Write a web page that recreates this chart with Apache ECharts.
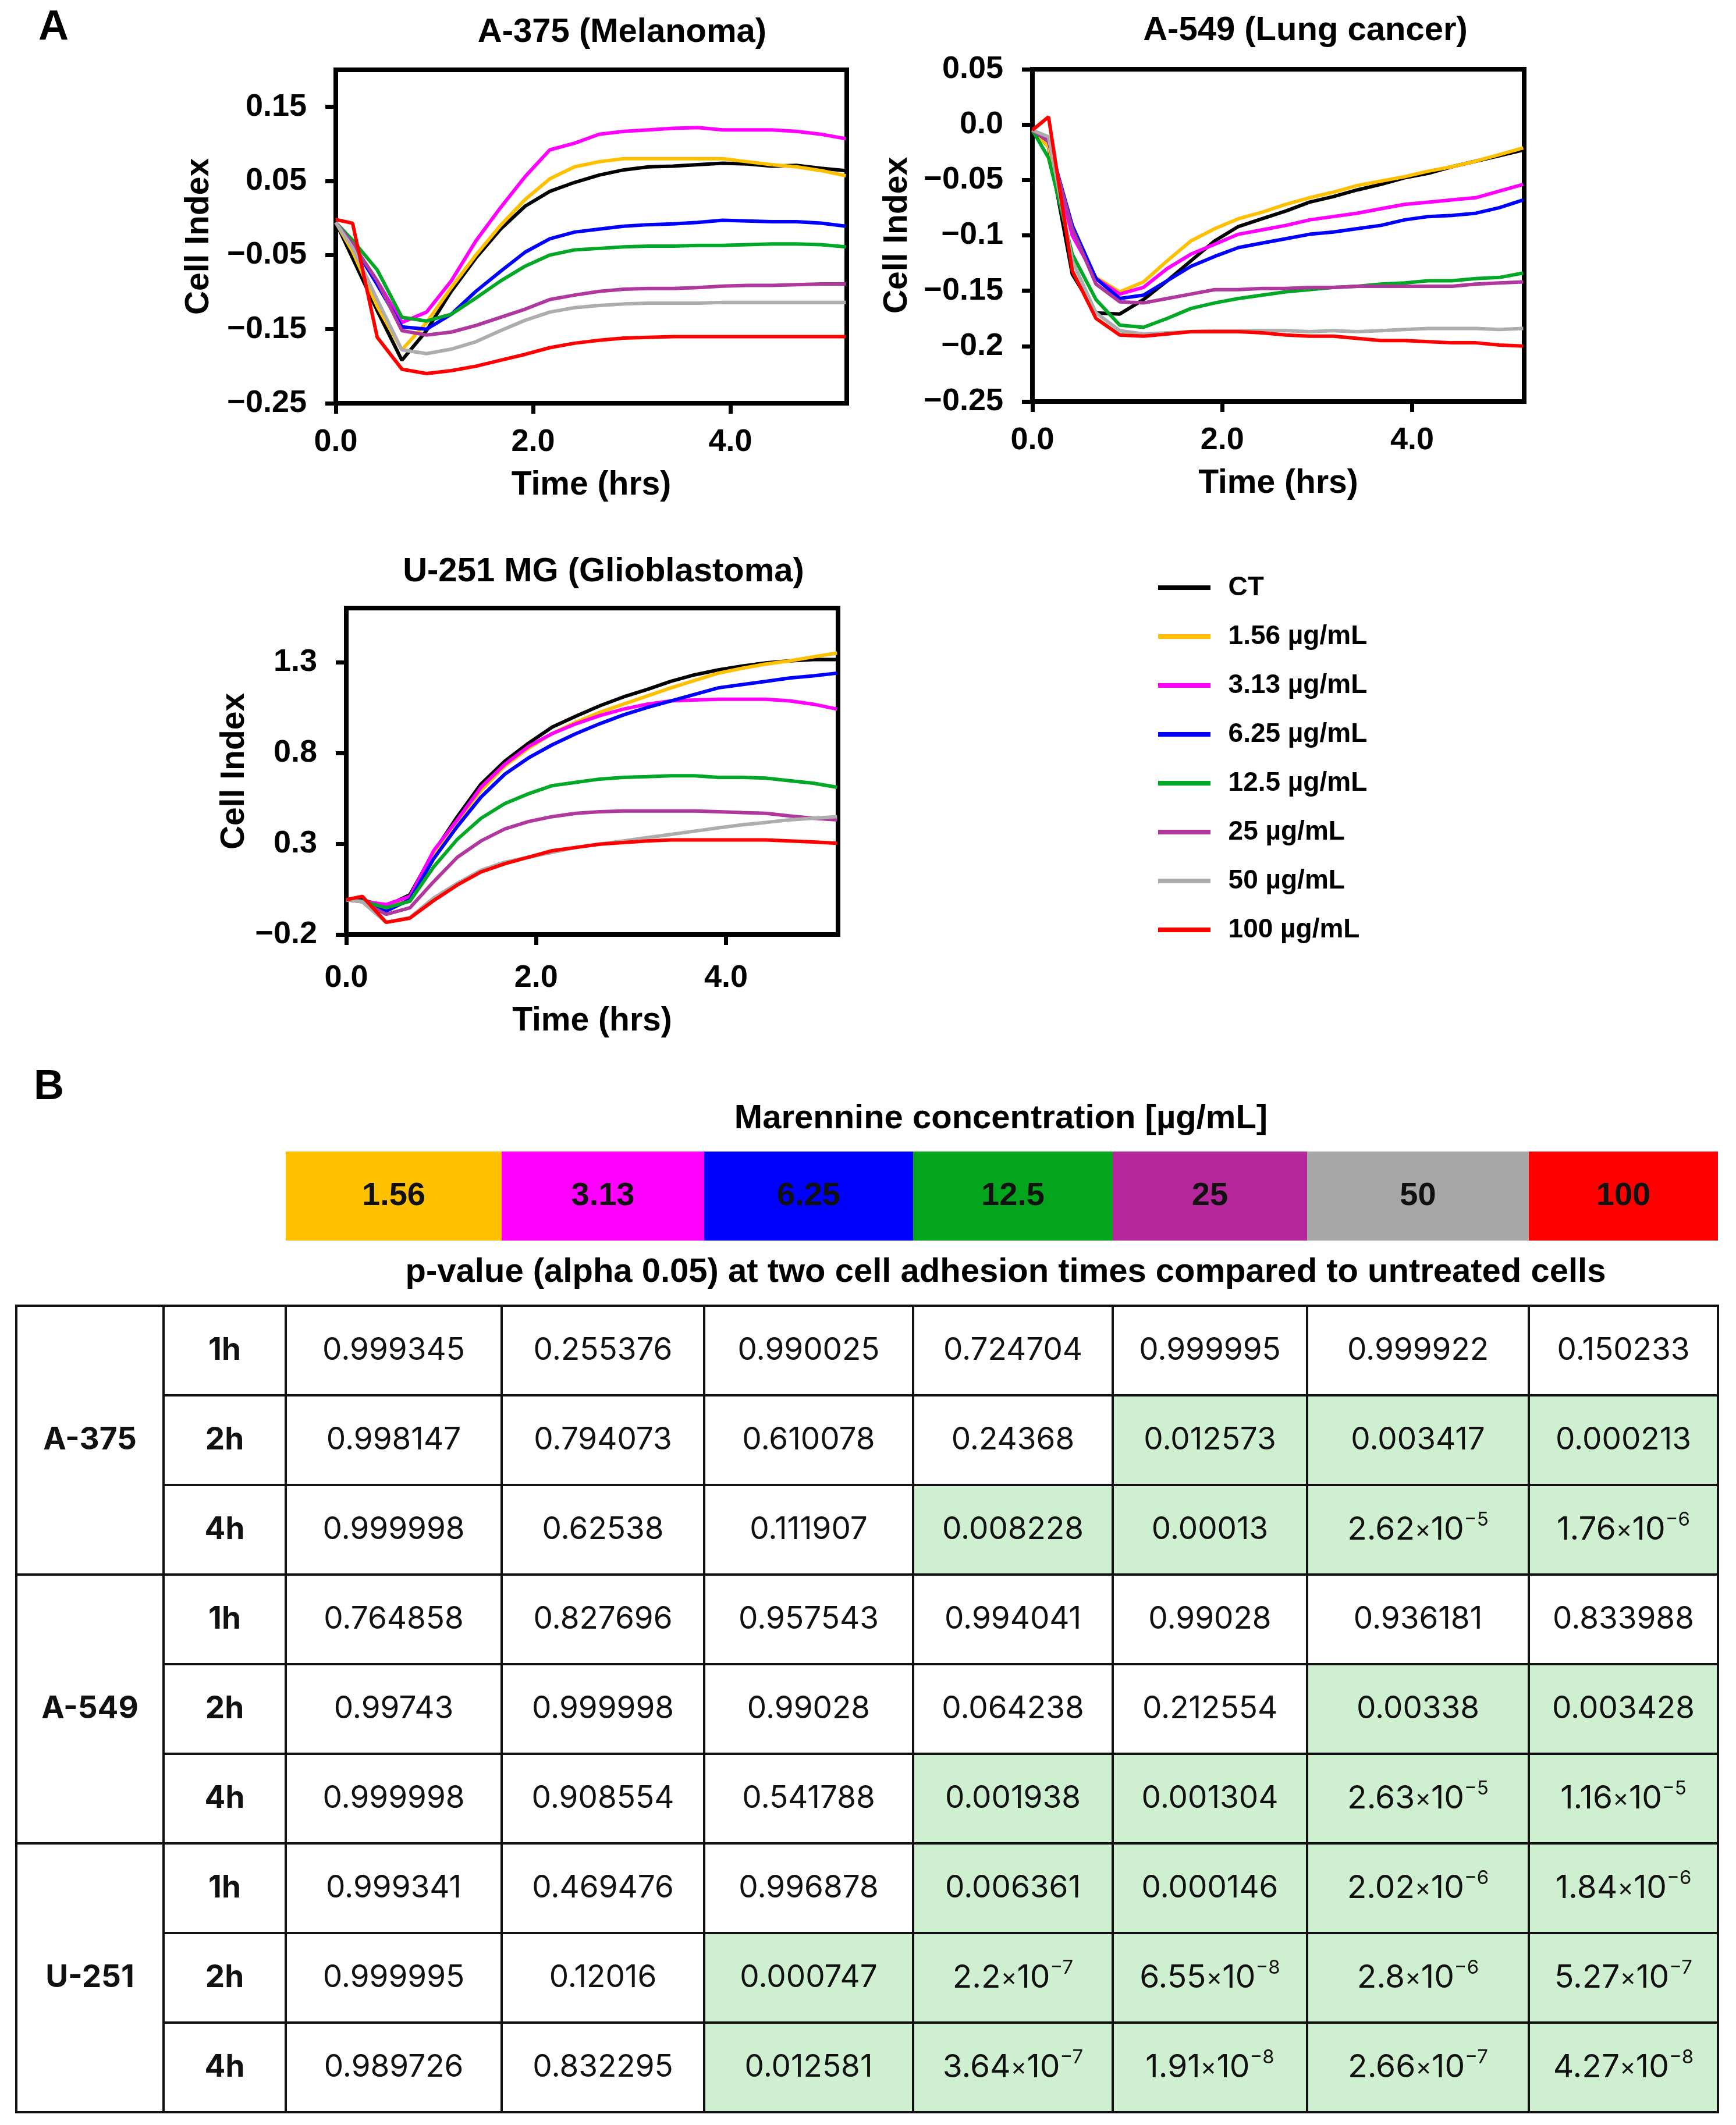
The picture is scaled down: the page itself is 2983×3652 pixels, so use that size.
<!DOCTYPE html>
<html>
<head>
<meta charset="utf-8">
<script src="https://cdn.jsdelivr.net/npm/echarts@6/dist/echarts.min.js"></script>
<style>
html, body { margin: 0; padding: 0; background: #fff; }
#container { width: 2983px; height: 3652px; }
</style>
</head>
<body>
<div id="container"></div>
<script>
// ---- data ----
var times = [0, 0.17, 0.42, 0.67, 0.92, 1.17, 1.42, 1.67, 1.92, 2.17, 2.42, 2.67, 2.92, 3.17, 3.42, 3.67, 3.92, 4.17, 4.42, 4.67, 4.92, 5.17];
var seriesNames = ['CT', '1.56 µg/mL', '3.13 µg/mL', '6.25 µg/mL', '12.5 µg/mL', '25 µg/mL', '50 µg/mL', '100 µg/mL'];

// A-375, one row per series (CT, 1.56 ... 100)
var a375 = [
    [-0.006, -0.054, -0.125, -0.192, -0.152, -0.099, -0.054, -0.015, 0.016, 0.036, 0.048, 0.058, 0.065, 0.069, 0.070, 0.072, 0.074, 0.073, 0.070, 0.071, 0.067, 0.064],
    [-0.006, -0.045, -0.119, -0.178, -0.141, -0.094, -0.050, -0.010, 0.025, 0.053, 0.069, 0.076, 0.080, 0.080, 0.080, 0.080, 0.080, 0.076, 0.072, 0.069, 0.064, 0.057],
    [-0.006, -0.035, -0.085, -0.141, -0.127, -0.085, -0.031, 0.014, 0.056, 0.092, 0.101, 0.113, 0.117, 0.119, 0.121, 0.122, 0.119, 0.119, 0.119, 0.117, 0.113, 0.107],
    [-0.006, -0.035, -0.090, -0.147, -0.150, -0.130, -0.099, -0.072, -0.046, -0.028, -0.019, -0.015, -0.011, -0.009, -0.008, -0.006, -0.003, -0.004, -0.005, -0.005, -0.007, -0.011],
    [-0.006, -0.030, -0.070, -0.134, -0.139, -0.130, -0.108, -0.085, -0.065, -0.050, -0.043, -0.041, -0.039, -0.038, -0.038, -0.037, -0.037, -0.036, -0.035, -0.035, -0.036, -0.039],
    [-0.006, -0.035, -0.085, -0.152, -0.158, -0.154, -0.145, -0.134, -0.123, -0.110, -0.104, -0.099, -0.096, -0.095, -0.095, -0.094, -0.092, -0.091, -0.091, -0.090, -0.089, -0.089],
    [-0.006, -0.040, -0.110, -0.178, -0.183, -0.177, -0.167, -0.152, -0.138, -0.127, -0.121, -0.118, -0.116, -0.115, -0.115, -0.115, -0.114, -0.114, -0.114, -0.114, -0.114, -0.114],
    [-0.002, -0.007, -0.161, -0.204, -0.210, -0.206, -0.200, -0.192, -0.184, -0.175, -0.169, -0.165, -0.162, -0.161, -0.160, -0.160, -0.160, -0.160, -0.160, -0.160, -0.160, -0.160]
];
// A-549
var a549 = [
    [-0.005, -0.020, -0.135, -0.170, -0.171, -0.158, -0.141, -0.123, -0.105, -0.092, -0.085, -0.078, -0.070, -0.065, -0.059, -0.054, -0.048, -0.044, -0.038, -0.033, -0.028, -0.023],
    [-0.005, -0.020, -0.100, -0.138, -0.151, -0.142, -0.123, -0.105, -0.094, -0.085, -0.079, -0.072, -0.066, -0.061, -0.055, -0.051, -0.047, -0.042, -0.038, -0.033, -0.027, -0.021],
    [-0.005, -0.015, -0.100, -0.139, -0.153, -0.147, -0.130, -0.117, -0.108, -0.099, -0.095, -0.091, -0.086, -0.083, -0.080, -0.076, -0.072, -0.070, -0.068, -0.066, -0.060, -0.054],
    [-0.005, -0.015, -0.091, -0.139, -0.157, -0.154, -0.141, -0.128, -0.119, -0.111, -0.107, -0.103, -0.099, -0.097, -0.094, -0.091, -0.086, -0.083, -0.082, -0.080, -0.075, -0.068],
    [-0.005, -0.030, -0.117, -0.158, -0.181, -0.183, -0.175, -0.166, -0.161, -0.157, -0.154, -0.151, -0.149, -0.147, -0.146, -0.144, -0.143, -0.141, -0.141, -0.139, -0.138, -0.134],
    [-0.005, -0.015, -0.094, -0.144, -0.160, -0.161, -0.157, -0.153, -0.149, -0.149, -0.148, -0.148, -0.147, -0.147, -0.146, -0.146, -0.146, -0.146, -0.146, -0.144, -0.143, -0.142],
    [-0.005, -0.011, -0.123, -0.170, -0.186, -0.189, -0.188, -0.187, -0.186, -0.186, -0.186, -0.186, -0.187, -0.186, -0.187, -0.186, -0.185, -0.184, -0.184, -0.184, -0.185, -0.184],
    [-0.005, 0.007, -0.132, -0.175, -0.190, -0.191, -0.189, -0.187, -0.187, -0.187, -0.188, -0.190, -0.191, -0.191, -0.193, -0.195, -0.195, -0.196, -0.197, -0.197, -0.199, -0.200]
];
// U-251 MG
var u251 = [
    [-0.008, -0.010, -0.044, 0.019, 0.253, 0.450, 0.630, 0.756, 0.855, 0.944, 1.004, 1.061, 1.110, 1.151, 1.196, 1.232, 1.259, 1.280, 1.298, 1.309, 1.316, 1.316],
    [-0.008, -0.017, -0.040, 0.005, 0.244, 0.423, 0.594, 0.729, 0.828, 0.908, 0.971, 1.025, 1.070, 1.115, 1.160, 1.201, 1.241, 1.268, 1.291, 1.309, 1.331, 1.352],
    [-0.008, -0.017, -0.035, 0.010, 0.262, 0.432, 0.612, 0.738, 0.837, 0.908, 0.962, 1.007, 1.043, 1.070, 1.088, 1.093, 1.097, 1.097, 1.097, 1.088, 1.070, 1.043],
    [-0.008, -0.017, -0.071, -0.008, 0.217, 0.396, 0.558, 0.684, 0.774, 0.846, 0.908, 0.962, 1.011, 1.052, 1.088, 1.124, 1.160, 1.178, 1.196, 1.214, 1.226, 1.241],
    [-0.008, -0.017, -0.053, -0.017, 0.172, 0.325, 0.441, 0.522, 0.576, 0.621, 0.639, 0.657, 0.666, 0.670, 0.675, 0.675, 0.666, 0.666, 0.662, 0.648, 0.634, 0.612],
    [-0.008, -0.020, -0.089, -0.053, 0.091, 0.226, 0.316, 0.382, 0.423, 0.450, 0.468, 0.477, 0.481, 0.481, 0.481, 0.481, 0.477, 0.472, 0.468, 0.454, 0.441, 0.432],
    [-0.008, -0.020, -0.133, -0.107, 0.001, 0.082, 0.154, 0.199, 0.226, 0.253, 0.280, 0.298, 0.316, 0.334, 0.352, 0.370, 0.388, 0.405, 0.418, 0.432, 0.441, 0.450],
    [-0.008, 0.010, -0.133, -0.110, -0.013, 0.073, 0.145, 0.190, 0.226, 0.262, 0.280, 0.298, 0.307, 0.316, 0.321, 0.321, 0.321, 0.321, 0.321, 0.316, 0.310, 0.303]
];

var xTicks = [0, 2, 4];
var xTickLabels = ['0.0', '2.0', '4.0'];
var a375YTicks = [-0.25, -0.15, -0.05, 0.05, 0.15];
var a375YLabels = ['\u22120.25', '\u22120.15', '\u22120.05', '0.05', '0.15'];
var a549YTicks = [-0.25, -0.2, -0.15, -0.1, -0.05, 0, 0.05];
var a549YLabels = ['\u22120.25', '\u22120.2', '\u22120.15', '\u22120.1', '\u22120.05', '0.0', '0.05'];
var u251YTicks = [-0.2, 0.3, 0.8, 1.3];
var u251YLabels = ['\u22120.2', '0.3', '0.8', '1.3'];

// table (panel B)
var concLabels = ['1.56', '3.13', '6.25', '12.5', '25', '50', '100'];
var cellLines = ['A-375', 'A-549', 'U-251'];
var hours = ['1h', '2h', '4h'];
var pA375 = [
    [0.999345, 0.255376, 0.990025, 0.724704, 0.999995, 0.999922, 0.150233],
    [0.998147, 0.794073, 0.610078, 0.24368, 0.012573, 0.003417, 0.000213],
    [0.999998, 0.62538, 0.111907, 0.008228, 0.00013, 2.62e-5, 1.76e-6]
];
var pA549 = [
    [0.764858, 0.827696, 0.957543, 0.994041, 0.99028, 0.936181, 0.833988],
    [0.99743, 0.999998, 0.99028, 0.064238, 0.212554, 0.00338, 0.003428],
    [0.999998, 0.908554, 0.541788, 0.001938, 0.001304, 2.63e-5, 1.16e-5]
];
var pU251 = [
    [0.999341, 0.469476, 0.996878, 0.006361, 0.000146, 2.02e-6, 1.84e-6],
    [0.999995, 0.12016, 0.000747, 2.2e-7, 6.55e-8, 2.8e-6, 5.27e-7],
    [0.989726, 0.832295, 0.012581, 3.64e-7, 1.91e-8, 2.66e-7, 4.27e-8]
];
var alpha = 0.05;

// ---- styles ----
var FONT = '"Liberation Sans", Arial, sans-serif';
var TFONT = 'Inter, "Liberation Sans", sans-serif';
var lineColors = ['#000000', '#FFC000', '#FF00FF', '#0000FF', '#00A825', '#B0379E', '#ADADAD', '#FF0000'];
var barColors = ['#FFC000', '#FF00FF', '#0000FF', '#02A51C', '#B5279A', '#A6A6A6', '#FF0000'];
var GREEN = '#CEF0D1';
var colWidths = [253, 210, 371, 348, 359, 343, 334, 381, 325];
var colStart = [];
colWidths.reduce(function (acc, w) { colStart.push(acc); return acc + w; }, 0);
var tableWidth = colWidths.reduce(function (a, b) { return a + b; }, 0);

var chart = echarts.init(document.getElementById('container'));

var panels = [
    { values: a375, yMin: -0.25, yMax: 0.2, ticks: a375YTicks, labels: a375YLabels,
      grid: { left: 577, top: 120, width: 878, height: 573 }, nameGap: 206, xMargin: 40, xNameGap: 113 },
    { values: a549, yMin: -0.25, yMax: 0.05, ticks: a549YTicks, labels: a549YLabels,
      grid: { left: 1774, top: 119, width: 845, height: 571 }, nameGap: 203, xMargin: 40, xNameGap: 113 },
    { values: u251, yMin: -0.2, yMax: 1.6, ticks: u251YTicks, labels: u251YLabels,
      grid: { left: 595, top: 1045, width: 845, height: 561 }, nameGap: 163, xMargin: 48, xNameGap: 121 }
];

function labelFor(ticks, labels) {
    return function (v) {
        for (var i = 0; i < ticks.length; i++) {
            if (Math.abs(ticks[i] - v) < 1e-9) return labels[i];
        }
        return '';
    };
}

var grids = [], xAxes = [], yAxes = [], series = [];
var axisFont = { fontFamily: FONT, fontWeight: 'bold', fontSize: 54, color: '#000' };
var nameFont = { fontFamily: FONT, fontWeight: 'bold', fontSize: 57, color: '#000' };

panels.forEach(function (p, k) {
    grids.push(Object.assign({ show: true, borderColor: '#000', borderWidth: 8, backgroundColor: 'transparent' }, p.grid));
    xAxes.push({
        type: 'value', gridIndex: k, min: 0, max: 5.18,
        name: 'Time (hrs)', nameLocation: 'middle', nameGap: p.xNameGap, nameTextStyle: nameFont,
        axisLine: { show: true, onZero: false, lineStyle: { color: '#000', width: 8 } },
        axisTick: { show: true, length: 18, customValues: xTicks, lineStyle: { color: '#000', width: 7 } },
        axisLabel: Object.assign({ customValues: xTicks, margin: p.xMargin, formatter: labelFor(xTicks, xTickLabels) }, axisFont),
        splitLine: { show: false }
    });
    yAxes.push({
        type: 'value', gridIndex: k, min: p.yMin, max: p.yMax,
        name: 'Cell Index', nameLocation: 'middle', nameGap: p.nameGap, nameTextStyle: nameFont,
        axisLine: { show: true, onZero: false, lineStyle: { color: '#000', width: 8 } },
        axisTick: { show: true, length: 18, customValues: p.ticks, lineStyle: { color: '#000', width: 7 } },
        axisLabel: Object.assign({ customValues: p.ticks, margin: 50, formatter: labelFor(p.ticks, p.labels) }, axisFont),
        splitLine: { show: false }
    });
    p.values.forEach(function (vals, s) {
        series.push({
            name: seriesNames[s], type: 'line', xAxisIndex: k, yAxisIndex: k,
            showSymbol: false, symbol: 'none', color: lineColors[s],
            lineStyle: { width: 6, color: lineColors[s] },
            data: times.map(function (t, i) { return [t, vals[i]]; })
        });
    });
});

// color bar grid (index 3) and table grid (index 4)
grids.push({ left: 28, top: 1979, width: tableWidth, height: 153 });
grids.push({ left: 28, top: 2244, width: tableWidth, height: 1386 });
[3, 4].forEach(function (g) {
    xAxes.push({ type: 'value', gridIndex: g, min: 0, max: tableWidth, show: false });
});
yAxes.push({ type: 'category', gridIndex: 3, data: ['conc'], show: false });
var rowKeys = [];
cellLines.forEach(function (c) { hours.forEach(function (h) { rowKeys.push(c + ' ' + h); }); });
yAxes.push({ type: 'category', gridIndex: 4, data: rowKeys, inverse: true, show: false });

function formatP(p) {
    if (p >= 1e-4) return String(p);
    var parts = p.toExponential().split('e');
    return '{n|' + parts[0] + '}{x|\u00d7}{n|10}{s|\u2212' + parts[1].replace('-', '') + '}';
}

var tableCells = [];
var pValues = [pA375, pA549, pU251];
cellLines.forEach(function (name, g) {
    tableCells.push({ col: 0, row: g * 3, span: 3, text: name, bold: true, fill: '#fff' });
    hours.forEach(function (hr, h) {
        var row = g * 3 + h;
        tableCells.push({ col: 1, row: row, span: 1, text: hr, bold: true, fill: '#fff' });
        pValues[g][h].forEach(function (p, c) {
            tableCells.push({ col: c + 2, row: row, span: 1, text: formatP(p), bold: false, fill: p < alpha ? GREEN : '#fff' });
        });
    });
});

var barCells = concLabels.map(function (lab, c) {
    return { col: c + 2, row: 0, span: 1, text: lab, bold: true, fill: barColors[c] };
});

var rich = {
    n: { fontSize: 55, fontFamily: TFONT, lineHeight: 66, color: '#111' },
    x: { fontSize: 42, fontFamily: TFONT, lineHeight: 66, color: '#111' },
    s: { fontSize: 33, fontFamily: TFONT, lineHeight: 36, verticalAlign: 'top', color: '#111' }
};

function cellRenderer(cells, opts) {
    return function (params, api) {
        var cell = cells[params.dataIndex];
        var x0 = colStart[cell.col];
        var x1 = x0 + colWidths[cell.col];
        var a = api.coord([x0, cell.row]);
        var b = api.coord([x1, cell.row]);
        var bandH = api.size([0, 1])[1];
        var top = a[1] - bandH / 2;
        var h = bandH * cell.span;
        return {
            type: 'group',
            children: [
                { type: 'rect', shape: { x: a[0], y: top, width: b[0] - a[0], height: h },
                  style: { fill: cell.fill, stroke: opts.stroke, lineWidth: opts.lineWidth } },
                { type: 'text', z2: 10,
                  style: { x: (a[0] + b[0]) / 2, y: top + h / 2, text: cell.text,
                           align: 'center', verticalAlign: 'middle', textAlign: 'center', textVerticalAlign: 'middle',
                           fontSize: opts.fontSize, fontFamily: opts.font, fontWeight: cell.bold ? 'bold' : 'normal',
                           fill: '#111', rich: rich } }
            ]
        };
    };
}

series.push({
    type: 'custom', xAxisIndex: 3, yAxisIndex: 3,
    renderItem: cellRenderer(barCells, { stroke: null, lineWidth: 0, fontSize: 56, font: FONT }),
    data: barCells.map(function (c) { return [colStart[c.col], c.row]; })
});
series.push({
    type: 'custom', xAxisIndex: 4, yAxisIndex: 4,
    renderItem: cellRenderer(tableCells, { stroke: '#111', lineWidth: 4, fontSize: 53, font: TFONT }),
    data: tableCells.map(function (c) { return [colStart[c.col], c.row]; })
});

function label(text, x, y, size) {
    return { type: 'text', x: x, y: y,
        style: { text: text, fontFamily: FONT, fontWeight: 'bold', fontSize: size, fill: '#000',
                 align: 'center', verticalAlign: 'middle', textAlign: 'center', textVerticalAlign: 'middle' } };
}

chart.setOption({
    backgroundColor: '#fff',
    animation: false,
    grid: grids,
    xAxis: xAxes,
    yAxis: yAxes,
    legend: {
        data: seriesNames, orient: 'vertical', left: 1985, top: 980,
        icon: 'rect', itemWidth: 90, itemHeight: 8, itemGap: 34, selectedMode: false,
        formatter: function (n) { return '  ' + n; },
        textStyle: { fontFamily: FONT, fontWeight: 'bold', fontSize: 46, color: '#000', lineHeight: 50 }
    },
    graphic: [
        label('A', 92, 48, 72),
        label('B', 84, 1869, 72),
        label('A-375 (Melanoma)', 1069, 56, 58),
        label('A-549 (Lung cancer)', 2243, 53, 58),
        label('U-251 MG (Glioblastoma)', 1037, 983, 58),
        label('Marennine concentration [µg/mL]', 1720, 1923, 58),
        label('p-value (alpha 0.05) at two cell adhesion times compared to untreated cells', 1728, 2187, 58)
    ],
    series: series
});
</script>
</body>
</html>
